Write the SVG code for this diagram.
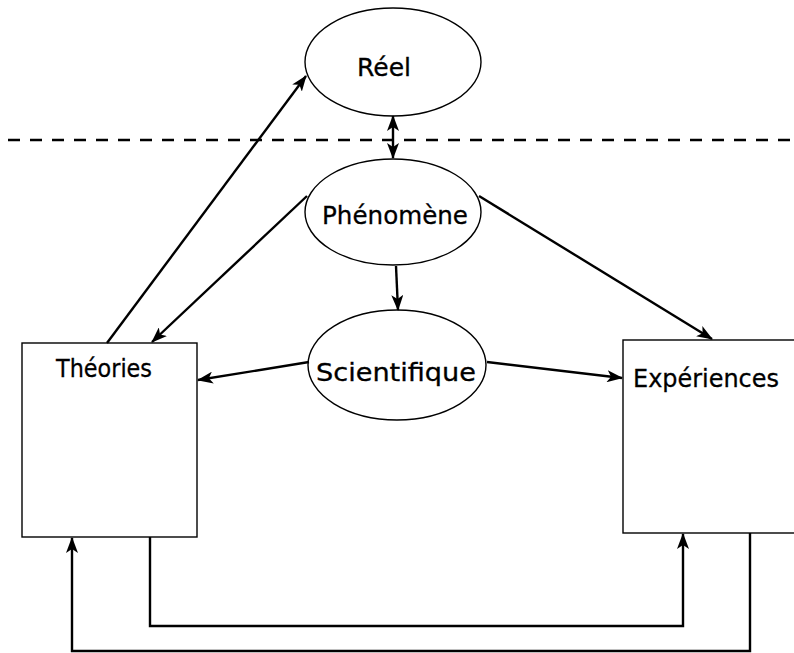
<svg xmlns="http://www.w3.org/2000/svg" width="794" height="653" viewBox="0 0 794 653">
  <defs>
    <marker id="arrow" viewBox="0 0 16 12" refX="15" refY="6" markerWidth="16" markerHeight="12" markerUnits="userSpaceOnUse" orient="auto-start-reverse">
      <path d="M0,0 L16,6 L0,12 L4,6 Z" fill="#000"/>
    </marker>
  </defs>
  <style>
    .node { fill: #fff; stroke: #000; stroke-width: 1.4; }
    .label { font-family: "DejaVu Sans", "Liberation Sans", sans-serif; font-size: 25px; fill: #000; stroke: #000; stroke-width: 0.3; text-anchor: middle; }
    .link { fill: none; stroke: #000; stroke-width: 2.4; }
    .divider { fill: none; stroke: #000; stroke-width: 2.5; stroke-dasharray: 12 10; }
  </style>
  <rect width="794" height="653" fill="#fff"/>

  <!-- boundary between the real and the phenomenon -->
  <line class="divider" x1="8" y1="140" x2="794" y2="140"/>

  <g id="reel">
    <ellipse class="node" cx="393" cy="62" rx="88" ry="54"/>
    <text class="label" x="384" y="76" textLength="54" lengthAdjust="spacingAndGlyphs">Réel</text>
  </g>
  <g id="phenomene">
    <ellipse class="node" cx="393" cy="212" rx="88" ry="53"/>
    <text class="label" x="395" y="224" textLength="146" lengthAdjust="spacingAndGlyphs">Phénomène</text>
  </g>
  <g id="scientifique">
    <ellipse class="node" cx="397" cy="365" rx="89" ry="55"/>
    <text class="label" x="396" y="381" textLength="160" lengthAdjust="spacingAndGlyphs">Scientifique</text>
  </g>
  <g id="theories">
    <rect class="node" x="22" y="343" width="175" height="194"/>
    <text class="label" x="104" y="377" textLength="96" lengthAdjust="spacingAndGlyphs">Théories</text>
  </g>
  <g id="experiences">
    <rect class="node" x="623" y="340" width="180" height="193"/>
    <text class="label" x="706" y="387" textLength="146" lengthAdjust="spacingAndGlyphs">Expériences</text>
  </g>

  <g id="connectors">
    <line class="link" x1="393" y1="158" x2="393" y2="116" marker-start="url(#arrow)" marker-end="url(#arrow)"/>
    <line class="link" x1="107" y1="343" x2="306" y2="76" marker-end="url(#arrow)"/>
    <line class="link" x1="307" y1="196" x2="152" y2="342" marker-end="url(#arrow)"/>
    <line class="link" x1="479" y1="196" x2="712" y2="339" marker-end="url(#arrow)"/>
    <line class="link" x1="396" y1="266" x2="398" y2="310" marker-end="url(#arrow)"/>
    <line class="link" x1="309" y1="362" x2="198" y2="380" marker-end="url(#arrow)"/>
    <line class="link" x1="487" y1="362" x2="622" y2="378" marker-end="url(#arrow)"/>
    <polyline class="link" points="150,537 150,626 683,626 683,534" marker-end="url(#arrow)"/>
    <polyline class="link" points="750,533 750,651 72,651 72,538" marker-end="url(#arrow)"/>
  </g>
</svg>
